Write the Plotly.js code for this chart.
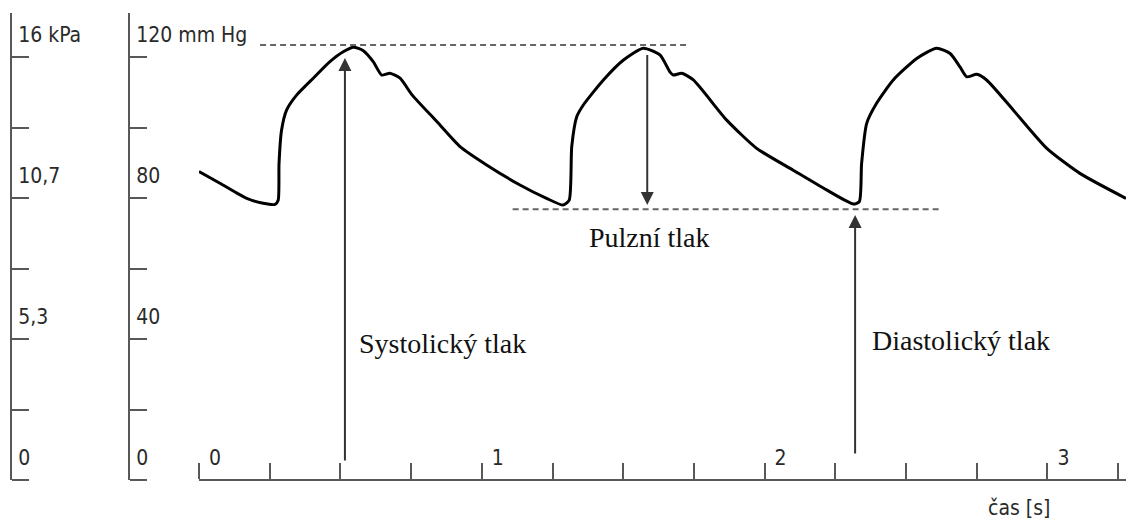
<!DOCTYPE html>
<html><head><meta charset="utf-8">
<script src="https://cdn.plot.ly/plotly-3.0.1.min.js"></script>
<style>html,body{margin:0;padding:0;background:#fff}#chart{width:1126px;height:520px}</style>
</head><body><div id="chart"></div>
<script>
// time [s]
const time = [0, 0.074, 0.169, 0.227, 0.269, 0.280, 0.283, 0.292, 0.310, 0.345, 0.404, 0.463, 0.510, 0.546, 0.581, 0.616, 0.646, 0.675, 0.711, 0.754, 0.841, 0.923, 1.017, 1.135, 1.229, 1.288, 1.309, 1.318, 1.336, 1.359, 1.430, 1.500, 1.571, 1.630, 1.665, 1.677, 1.707, 1.748, 1.866, 1.972, 2.101, 2.219, 2.314, 2.335, 2.343, 2.361, 2.396, 2.455, 2.538, 2.608, 2.656, 2.691, 2.715, 2.750, 2.785, 2.879, 2.998, 3.115, 3.278];
// pressure [mm Hg]
const pressure = [87.5, 84.2, 79.9, 78.5, 78.2, 79.4, 89.8, 99.3, 105.0, 109.2, 114.0, 118.7, 121.5, 122.8, 121.8, 118.7, 114.9, 115.4, 114.0, 109.2, 101.7, 94.6, 89.4, 83.7, 79.9, 78.0, 79.4, 94.6, 103.1, 106.4, 113.5, 119.1, 122.5, 120.6, 115.8, 114.9, 115.4, 113.5, 102.1, 94.1, 87.9, 82.3, 78.3, 79.0, 89.8, 101.2, 106.9, 113.5, 119.6, 122.5, 121.0, 117.2, 114.4, 115.1, 113.5, 105.0, 94.1, 87.0, 79.9];

const xTickVals = [0, 0.25, 0.5, 0.75, 1, 1.25, 1.5, 1.75, 2, 2.25, 2.5, 2.75, 3, 3.25];
const xTickText = ["0", "", "", "", "1", "", "", "", "2", "", "", "", "3", ""];
const yTickVals = [0, 20, 40, 60, 80, 100, 120];
const mmHgTickText = ["0", "", "40", "", "80", "", "120 mm Hg"];
const kPaTickText = ["0", "", "5,3", "", "10,7", "", "16 kPa"];

// reference levels
const systolicLineX = [0.216, 1.729];
const systolicLevel = 123.4;
const diastolicLineX = [1.109, 2.620];
const diastolicLevel = 76.8;

// arrows: [x, tail y, tip y]
const systolicArrow = [0.516, 5.1, 119.7];
const pulseArrow = [1.585, 121.0, 78.0];
const diastolicArrow = [2.320, 7.1, 75.2];

const labelNames = ["Systolický tlak", "Pulzní tlak", "Diastolický tlak"];
const labelX = [0.559, 1.373, 2.373];
const labelY = [38.6, 68.9, 39.7];
const xTitle = "čas [s]";

const W = 1126;
const sans = "DejaVu Sans Condensed, Liberation Sans Narrow, sans-serif";
const serif = "Liberation Serif, Times New Roman, serif";
const axisColor = "#585858";
const textColor = "#2a2a2a";

const traces = [
  {x: time, y: pressure, type: "scatter", mode: "lines",
   line: {color: "#000", width: 3, shape: "spline", smoothing: 0.6}, hoverinfo: "skip"},
  {x: systolicLineX, y: [systolicLevel, systolicLevel], type: "scatter", mode: "lines",
   line: {color: "#666", width: 2, dash: "6px,4px"}, hoverinfo: "skip"},
  {x: diastolicLineX, y: [diastolicLevel, diastolicLevel], type: "scatter", mode: "lines",
   line: {color: "#666", width: 2, dash: "6px,4px"}, hoverinfo: "skip"},
  // kPa scale shares the mm Hg values; an empty trace keeps that axis drawn
  {x: [null], y: [null], yaxis: "y2", type: "scatter", mode: "lines", hoverinfo: "skip"}
];

function arrow(a) {
  return {x: a[0], y: a[2], ax: a[0], ay: a[1], xref: "x", yref: "y", axref: "x", ayref: "y",
    showarrow: true, arrowhead: 2, arrowsize: 1.3, arrowwidth: 2, arrowcolor: "#333", standoff: 0, text: ""};
}

const annotations = [arrow(systolicArrow), arrow(pulseArrow), arrow(diastolicArrow)];
labelNames.forEach((t, i) => annotations.push({
  x: labelX[i], y: labelY[i], xref: "x", yref: "y", text: t, showarrow: false,
  xanchor: "left", yanchor: "middle", font: {family: serif, size: 28, color: "#111"}
}));
annotations.push({x: (986 - 199) / 282.8, y: -0.06, xref: "x", yref: "paper", text: xTitle,
  showarrow: false, xanchor: "left", yanchor: "middle", font: {family: sans, size: 21, color: textColor}});

const yBase = {
  range: [0, 132.5], tickvals: yTickVals, ticks: "outside", ticklen: 17, tickwidth: 2, tickcolor: axisColor,
  showline: true, linecolor: axisColor, linewidth: 2, showgrid: false, zeroline: false, side: "right",
  ticklabelshift: -22, ticklabelstandoff: -15, tickfont: {family: sans, size: 21, color: textColor},
  fixedrange: true, anchor: "free"
};

const layout = {
  width: 1126, height: 520, margin: {l: 0, r: 0, t: 13, b: 40},
  paper_bgcolor: "#fff", plot_bgcolor: "rgba(0,0,0,0)", showlegend: false,
  xaxis: {domain: [199 / W, 1], range: [0, 927 / 282.8], tickvals: xTickVals, ticktext: xTickText,
    anchor: "free", position: 0, side: "top",
    ticks: "outside", ticklen: 16, tickwidth: 2, tickcolor: axisColor, showline: true, linecolor: axisColor,
    linewidth: 2, showgrid: false, zeroline: false, ticklabelposition: "outside right",
    ticklabelshift: 8, ticklabelstandoff: 6, tickfont: {family: sans, size: 21, color: textColor}, fixedrange: true},
  yaxis: Object.assign({}, yBase, {position: 129 / W, ticktext: mmHgTickText}),
  yaxis2: Object.assign({}, yBase, {position: 11 / W, ticktext: kPaTickText, overlaying: "y"}),
  annotations: annotations
};

Plotly.newPlot("chart", traces, layout, {displayModeBar: false, staticPlot: true});
</script>
</body></html>
